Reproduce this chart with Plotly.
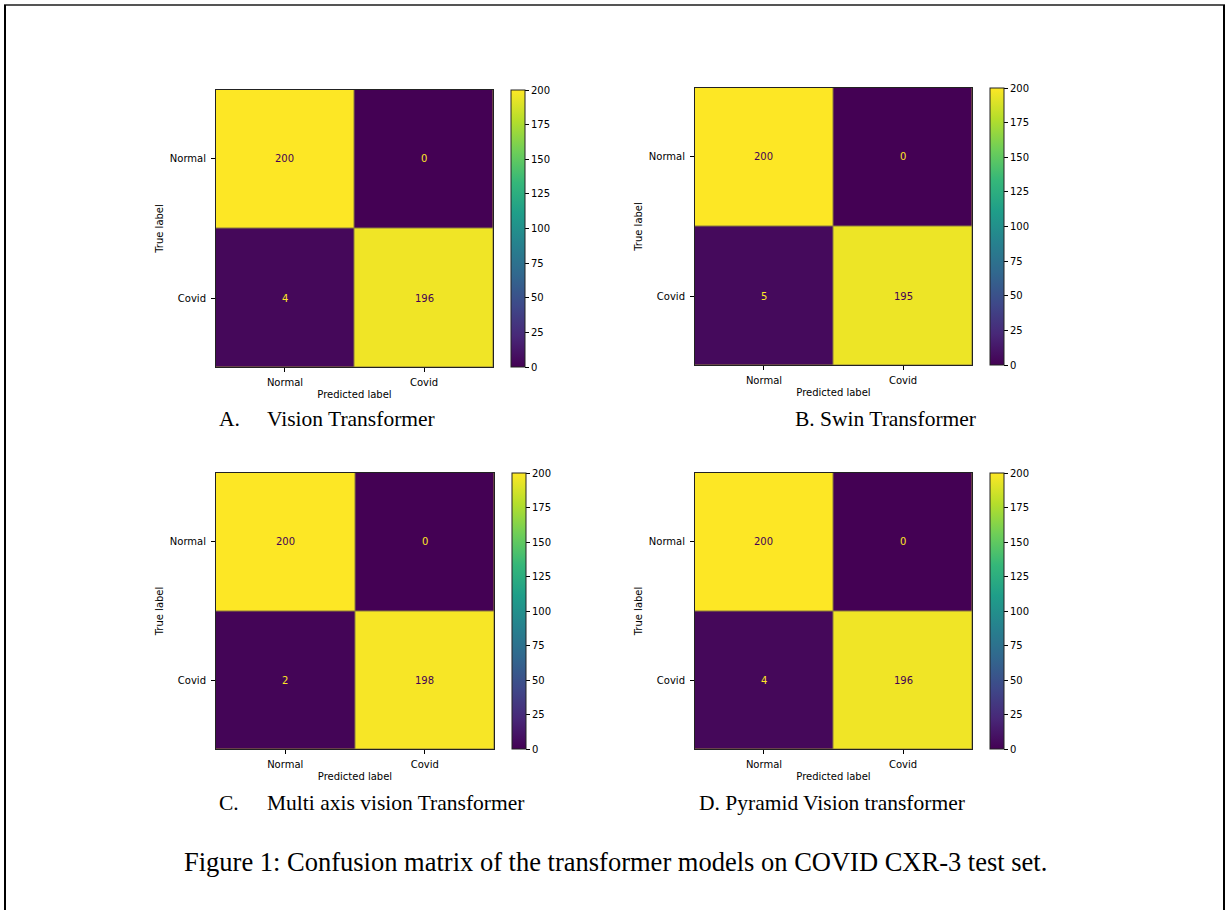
import plotly.graph_objects as go

W, H = 1226, 910

labels = ["Normal", "Covid"]
vit = [[200, 0], [4, 196]]
swin = [[200, 0], [5, 195]]
maxvit = [[200, 0], [2, 198]]
pvt = [[200, 0], [4, 196]]
matrices = [vit, swin, maxvit, pvt]
cbar_ticks = [0, 25, 50, 75, 100, 125, 150, 175, 200]

# panel pixel boxes (left, top, right, bottom) and colorbar left
boxes = [(216, 90, 493, 367), (695, 88, 972, 365), (216, 473, 494, 749), (695, 473, 972, 749)]
cbar_x = [511, 990, 512, 990]

VIR_LO = "#440154"
VIR_HI = "#fde725"
tick_font = dict(family="DejaVu Sans", size=10, color="#000000")
E = 0.496  # trims the half-gap at the outer edges of the cells

fig = go.Figure()

for i, (z, (l, t, r, b)) in enumerate(zip(matrices, boxes)):
    n = "" if i == 0 else str(i + 1)
    xa, ya = "x" + n, "y" + n
    fig.add_trace(go.Heatmap(
        z=z, x=labels, y=labels, xaxis=xa, yaxis=ya,
        colorscale="Viridis", zmin=0, zmax=200, xgap=1, ygap=1,
        hoverinfo="skip",
        colorbar=dict(
            x=cbar_x[i] / W, xanchor="left", xpad=0, xref="paper",
            y=1 - b / H, yanchor="bottom", ypad=0, yref="paper",
            len=(b - t) / H, lenmode="fraction",
            thickness=14, thicknessmode="pixels",
            outlinewidth=1, outlinecolor="#222222",
            tickvals=cbar_ticks, ticks="outside", ticklen=4, tickwidth=1,
            tickcolor="#000000", tickfont=tick_font,
        ),
    ))
    fig.layout["xaxis" + n] = dict(
        domain=[l / W, r / W], anchor=ya, showline=True, mirror=True,
        linecolor="#222222", linewidth=1, ticks="outside", ticklen=4,
        tickcolor="#000000", tickfont=tick_font, showgrid=False, zeroline=False,
        ticklabelstandoff=2, range=[-E, 1 + E],
        title=dict(text="Predicted label", font=tick_font, standoff=3),
        fixedrange=True,
    )
    fig.layout["yaxis" + n] = dict(
        domain=[1 - b / H, 1 - t / H], anchor=xa, showline=True, mirror=True,
        linecolor="#222222", linewidth=1, ticks="outside", ticklen=4,
        tickcolor="#000000", tickfont=tick_font, showgrid=False, zeroline=False,
        range=[1 + E, -E], ticklabelstandoff=3,
        title=dict(text="True label", font=tick_font, standoff=4),
        fixedrange=True,
    )
    for yi, yl in enumerate(labels):
        for xi, xl in enumerate(labels):
            v = z[yi][xi]
            fig.add_annotation(
                x=xl, y=yl, xref=xa, yref=ya, text=str(v), showarrow=False,
                font=dict(family="DejaVu Sans", size=10,
                          color=VIR_LO if v > 100 else VIR_HI),
            )

serif = dict(family="Liberation Serif", size=21.5, color="#000000")
captions = [
    (217, 419, "A."), (265, 419, "Vision Transformer"),
    (793, 419, "B. Swin Transformer"),
    (217, 803, "C."), (265, 803, "Multi axis vision Transformer"),
    (697, 803, "D. Pyramid Vision transformer"),
]
for x, y, txt in captions:
    fig.add_annotation(x=x / W, y=1 - y / H, xref="paper", yref="paper",
                       xanchor="left", yanchor="middle", text=txt,
                       showarrow=False, font=serif)

fig.add_annotation(x=615 / W, y=1 - 862 / H, xref="paper", yref="paper",
                   xanchor="center", yanchor="middle",
                   text="Figure 1: Confusion matrix of the transformer models on COVID CXR-3 test set.",
                   showarrow=False, font=dict(family="Liberation Serif", size=26.5, color="#000000"))

# page border (top, left, right)
fig.add_shape(type="line", xref="paper", yref="paper", x0=4 / W, x1=1225 / W,
              y0=1 - 5 / H, y1=1 - 5 / H, line=dict(color="#555555", width=2))
fig.add_shape(type="line", xref="paper", yref="paper", x0=5 / W, x1=5 / W,
              y0=0, y1=1 - 5 / H, line=dict(color="#000000", width=2))
fig.add_shape(type="line", xref="paper", yref="paper", x0=1224 / W, x1=1224 / W,
              y0=0, y1=1 - 5 / H, line=dict(color="#000000", width=2))

fig.update_layout(
    width=W, height=H, margin=dict(l=0, r=0, t=0, b=0),
    paper_bgcolor="#ffffff", plot_bgcolor="#8c7d3e",
    showlegend=False,
)

fig.write_html("out.html", config={"displayModeBar": False},
               post_script="document.body.style.margin='0';document.body.style.overflow='hidden';")
